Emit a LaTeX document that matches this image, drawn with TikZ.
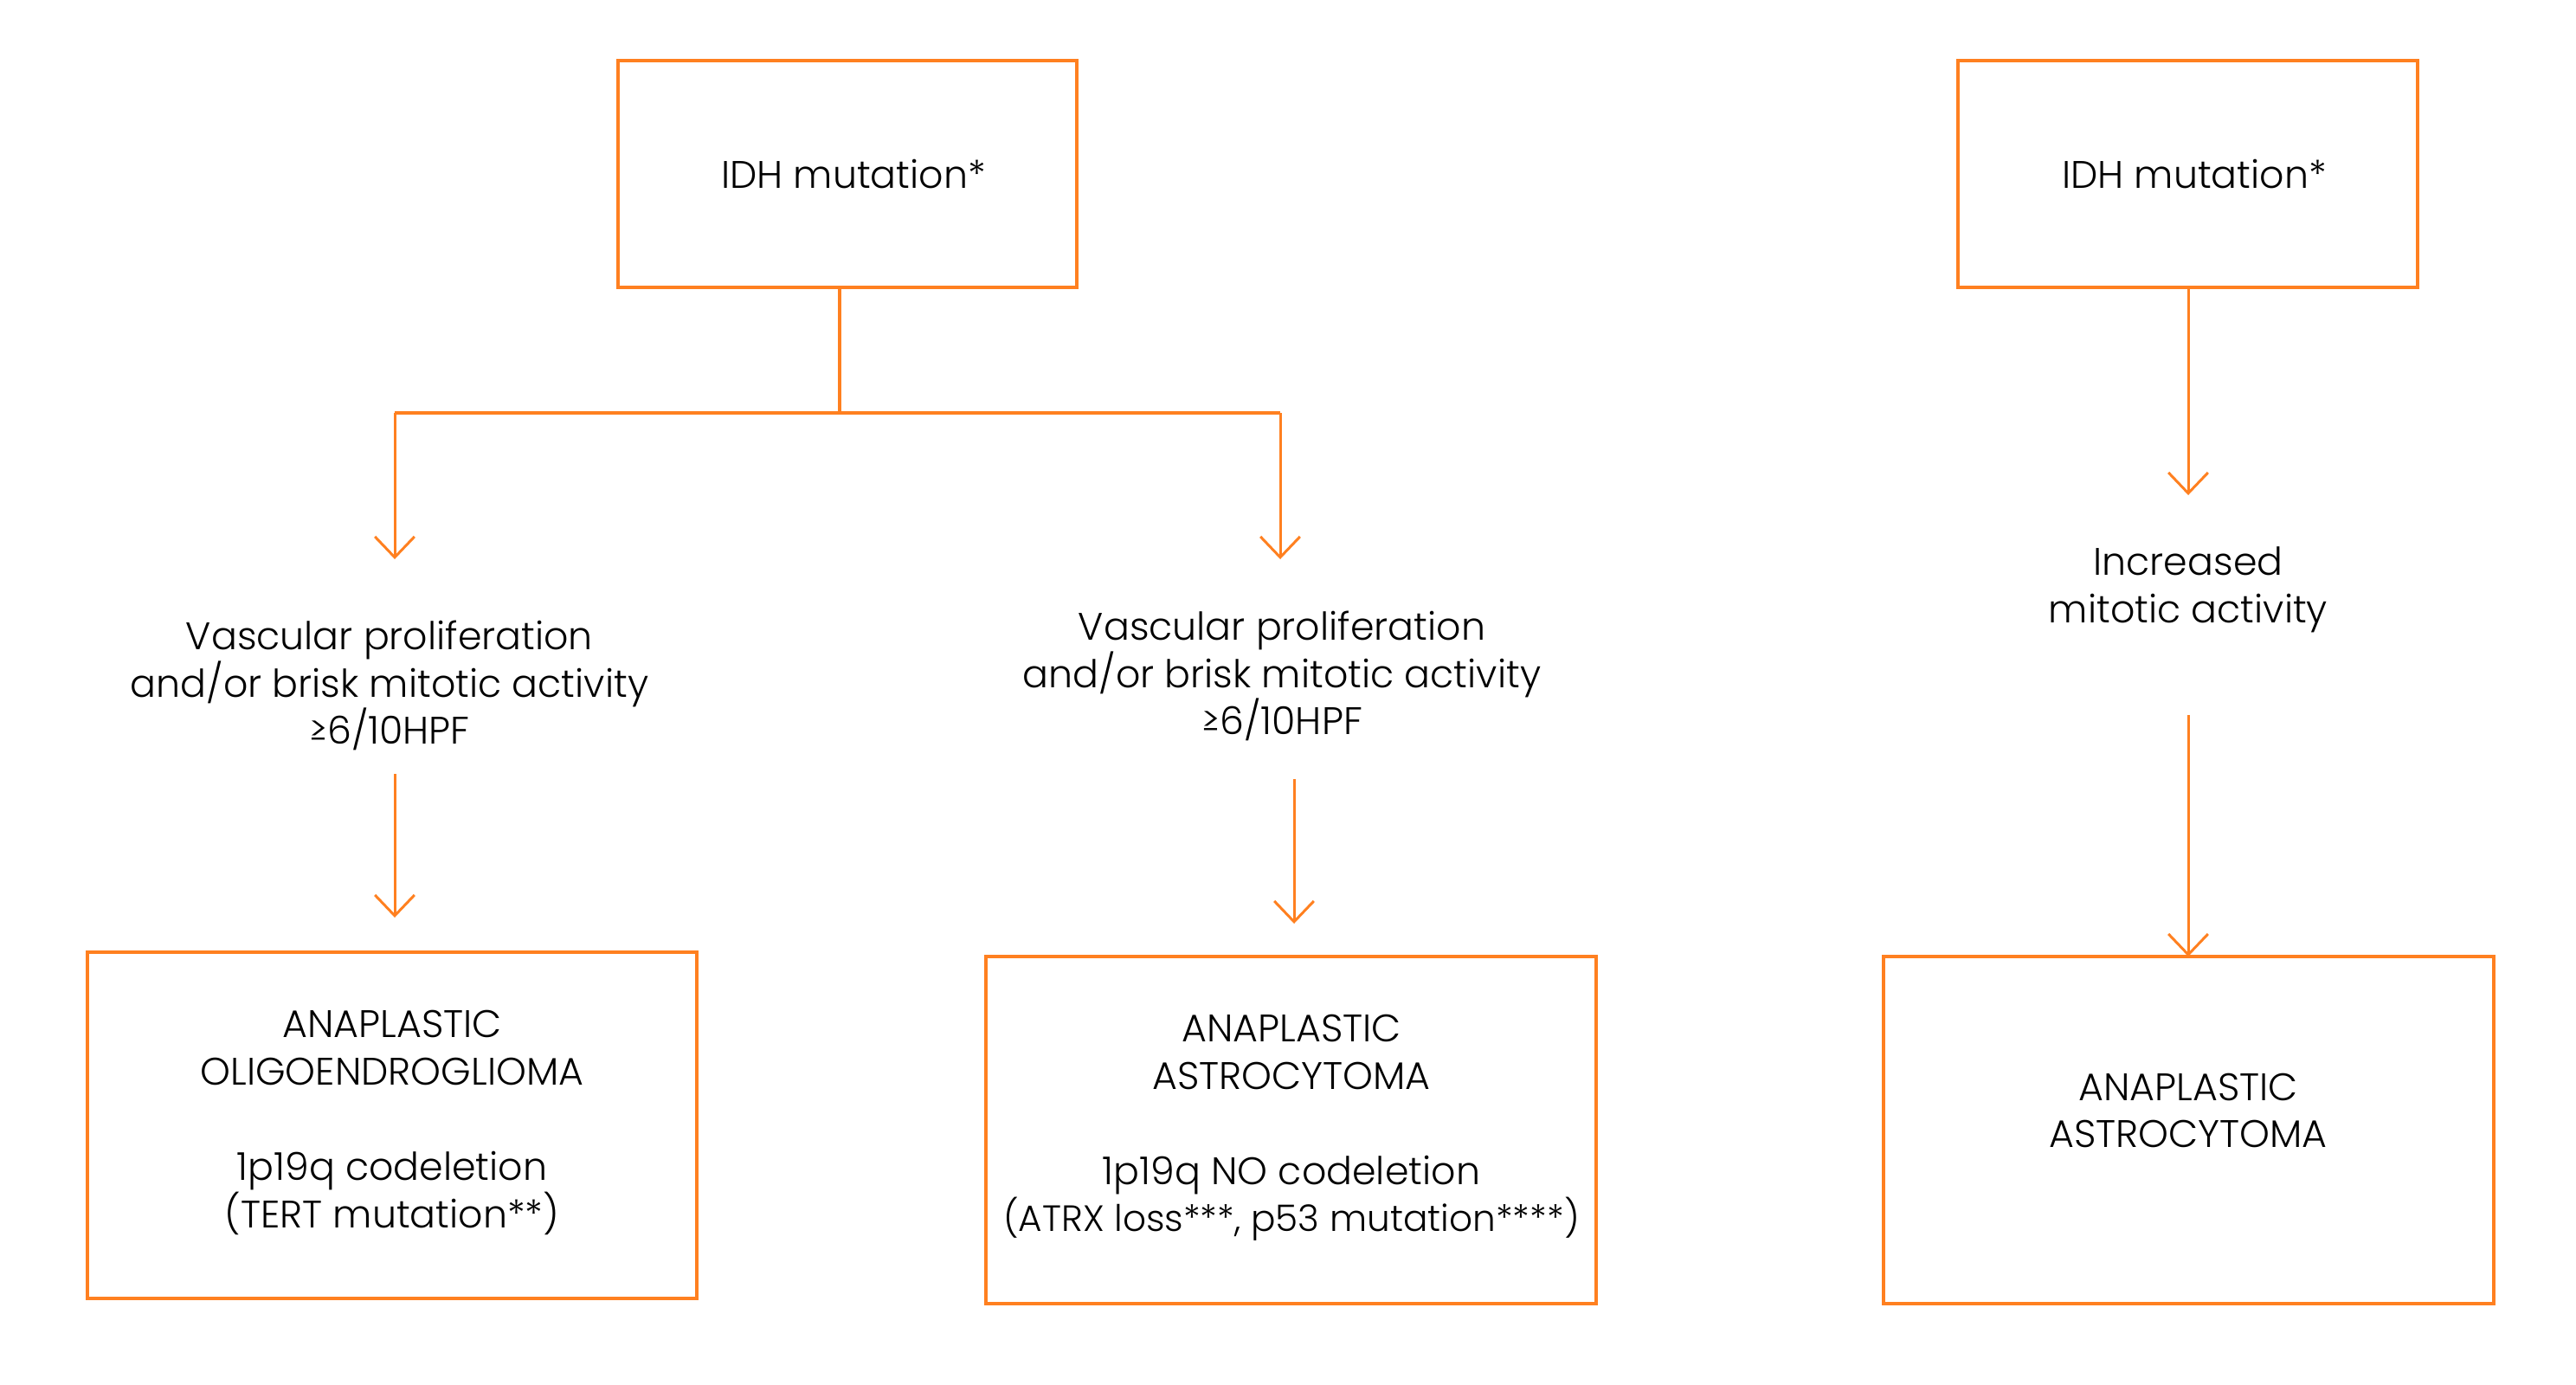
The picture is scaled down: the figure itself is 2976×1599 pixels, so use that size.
\documentclass[tikz,border=0pt]{standalone}
\usepackage{fontspec}
\setmainfont{Poppins Light}
\usetikzlibrary{arrows.meta}
\definecolor{idhorange}{RGB}{255,128,32}

\begin{document}
\begin{tikzpicture}[x=0.01cm,y=-0.01cm,draw=idhorange,font=\fontsize{12.6}{15.6}\selectfont]
    \tikzstyle{box}=[draw=idhorange,line width=1.1pt,inner sep=0pt]
    \tikzstyle{arrow}=[draw=idhorange,line width=0.85pt,-{Straight Barb[length=6.8pt,width=13pt,line width=0.85pt]}]
    \tikzstyle{annot}=[align=center,inner sep=0pt]

    \useasboundingbox (0,0) rectangle (2976,1599);

    % top boxes
    \draw[box] (714,70) rectangle (1244,332);
    \draw[box] (2262,70) rectangle (2793,332);
    \node[annot] (IDH-1) at (986,201) {IDH mutation*};
    \node[annot] (IDH-2) at (2535,201) {IDH mutation*};
    \coordinate (IDH-1-s) at (970,332);
    \coordinate (IDH-2-s) at (2528,332);

    % split of the left branch
    \coordinate (J) at (970,477);
    \coordinate (J-1) at (456,477);
    \coordinate (J-2) at (1479,477);
    \draw[box] (IDH-1-s) -- (J);
    \draw[box] (J-1) -- (J-2);

    % criteria texts
    \node[annot] (C-1) at (450,792) {Vascular proliferation\\and/or brisk mitotic activity\\≥6/10HPF};
    \node[annot] (C-2) at (1481,781) {Vascular proliferation\\and/or brisk mitotic activity\\≥6/10HPF};
    \node[annot] (C-3) at (2528,681) {Increased\\mitotic activity};

    \coordinate (C-1-n) at (456,646);
    \coordinate (C-2-n) at (1479,646);
    \coordinate (C-3-n) at (2528,572);
    \coordinate (C-1-s) at (456,894);
    \coordinate (C-2-s) at (1495,900);
    \coordinate (C-3-s) at (2528,826);

    % bottom boxes
    \draw[box] (101,1100) rectangle (805,1500);
    \draw[box] (1139,1105) rectangle (1844,1506);
    \draw[box] (2176,1105) rectangle (2881,1506);
    \node[annot] (D-1) at (453,1297) {ANAPLASTIC\\OLIGOENDROGLIOMA\\[15.6pt]1p19q codeletion\\(TERT mutation**)};
    \node[annot] (D-2) at (1492,1303) {ANAPLASTIC\\ASTROCYTOMA\\[15.6pt]1p19q NO codeletion\\{\fontsize{12}{15.6}\selectfont(ATRX loss***, p53 mutation****)}};
    \node[annot] (D-3) at (2528,1283) {ANAPLASTIC\\ASTROCYTOMA};

    \coordinate (D-1-n) at (456,1060);
    \coordinate (D-2-n) at (1495,1067);
    \coordinate (D-3-n) at (2528,1105);

    % arrows
    \draw[arrow] (J-1) -- (C-1-n);
    \draw[arrow] (J-2) -- (C-2-n);
    \draw[arrow] (IDH-2-s) -- (C-3-n);
    \foreach \i in {1,2,3}
        \draw[arrow] (C-\i-s) -- (D-\i-n);
\end{tikzpicture}
\end{document}
